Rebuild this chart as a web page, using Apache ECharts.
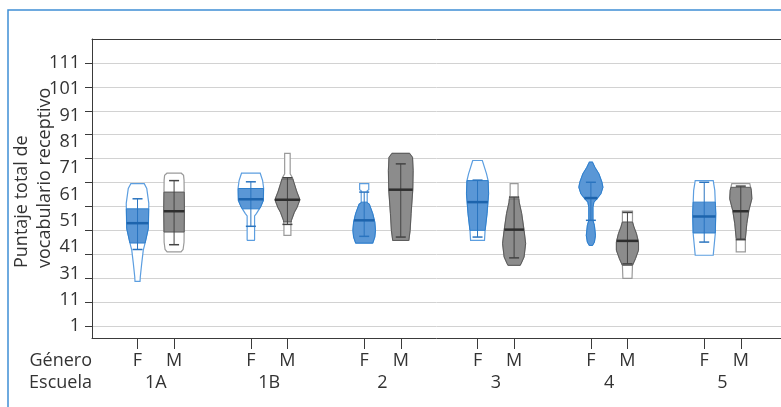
<!DOCTYPE html>
<html><head><meta charset="utf-8">
<script src="https://cdn.jsdelivr.net/npm/echarts@6/dist/echarts.min.js"></script>
<style>html,body{margin:0;padding:0;background:#fff}#c{width:781px;height:407px}</style>
</head><body><div id="c"></div>
<script>
// ---- data ----
const schools = ['1A', '1B', '2', '3', '4', '5'];
const genders = ['F', 'M'];
const yTickValues = [1, 11, 21, 31, 41, 51, 61, 71, 81, 91, 101, 111];
const yTickLabels = ['111', '101', '91', '81', '71', '61', '51', '41', '31', '11', '1'];
// group order: 1A F, 1A M, 1B F, 1B M, 2 F, 2 M, 3 F, 3 M, 4 F, 4 M, 5 F, 5 M
const medians     = [44, 49, 54, 53.8, 45.2, 58, 52.8, 41.3, 54.5, 36.6, 46.8, 49];
const fillHigh    = [50, 57, 58.5, 62.5, 52.8, 73.2, 61.8, 54.2, 69.5, 44.5, 52.8, 59];
const fillLow     = [35.7, 40.3, 50, 44.5, 35.7, 36.8, 41, 26.4, 34.7, 26.4, 39.9, 37.5];
const whiskerHigh = [54.2, 61.8, 61.3, 63, 57, 68.8, 62, 54.9, 61.1, 48.5, 61.1, 59.5];
const whiskerLow  = [33, 35, 42.7, 43.5, 38.5, 38.2, 38.2, 29.5, 45.2, 27, 36.1, 37.1];
// density profiles: [score, relative density]
const densityProfiles = [
  [[60.5,.56],[58.5,.77],[52.3,.94],[41.8,.9],[35.7,.63],[32.7,.48],[27.2,.35],[21.5,.23],[19.7,.21]],
  [[64.9,.6],[64,.79],[62,.83],[50,.86],[36,.83],[33,.75],[32,.58]],
  [[64.9,.78],[61.8,.98],[58.8,1.06],[53.5,1.04],[50.8,.81],[48,.46],[47,.31],[37,.31],[36.8,.29]],
  [[73.2,.23],[64.6,.23],[63,.42],[61,.54],[57,.79],[53.8,1.04],[50.5,.79],[48.6,.58],[45.2,.33],[43,.29],[38.9,.29]],
  [[60.5,.38],[58,.38],[57.5,.25],[52.5,.25],[52,.42],[48,.71],[44.5,.88],[41,.94],[38.2,.88],[35.7,.71]],
  [[73.2,.73],[71.5,.98],[66,1.03],[58,1.0],[48,.86],[41,.78],[36.8,.67]],
  [[70.2,.4],[64.6,.75],[61.8,.88],[56.3,.92],[48,.79],[41,.63],[36.8,.58]],
  [[60.5,.33],[55.6,.33],[54.9,.38],[52.8,.42],[48,.63],[41,.83],[35.5,.96],[29.9,.83],[27.1,.58],[26.4,.5]],
  [[69.5,.13],[67.4,.33],[64.6,.67],[61.1,.92],[59,1.0],[56.3,.83],[54.2,.5],[52.8,.25],[50.7,.17],[45.2,.17],[43.1,.29],[38.9,.38],[36.1,.29],[34.7,.13]],
  [[49,.42],[44.5,.42],[42.4,.54],[39.6,.75],[36.1,.92],[32.7,.92],[29.2,.67],[26.4,.42],[20.9,.38]],
  [[61.8,.75],[57.7,.88],[48,.96],[39.6,.92],[30.6,.75]],
  [[60.5,.75],[57.7,.88],[54.2,.92],[49.3,.67],[43.8,.5],[37.5,.38],[32,.38]]
];

// ---- layout helpers (positions of categories on the x value axis) ----
const SCHOOL_STEP = 3.1;
const X_MIN = -1.245, X_MAX = 17.6;
const xPosOf = (s, g) => s * SCHOOL_STEP + g;
const tickXs = [], labelXs = [], labelTexts = [];
schools.forEach((s, i) => {
  genders.forEach((g, j) => { tickXs.push(xPosOf(i, j)); labelXs.push(xPosOf(i, j)); labelTexts.push(g); });
  labelXs.push(xPosOf(i, 0.5)); labelTexts.push('\n' + s);
});
const nearestIdx = (arr, v) => { let b = 0; arr.forEach((a, i) => { if (Math.abs(a - v) < Math.abs(arr[b] - v)) b = i; }); return b; };
const yLabelPos = yTickLabels.map((t, k) => 111 - k * 11);

const seriesData = [];
schools.forEach((s, i) => genders.forEach((g, j) => seriesData.push([xPosOf(i, j), j, i * 2 + j])));

const HALF_PX = 12;
const AXIS_COLOR = '#3a3a3a';
const STY = {
  F: { fill: '#5a97d6', stroke: '#2f7fcc', outline: '#5c9ee0', med: '#1d64ad', whisk: '#2a74bf' },
  M: { fill: '#8c8c8c', stroke: '#5a5a5a', outline: '#9a9a9a', med: '#2e2e2e', whisk: '#444' }
};

function interp(prof, v) {
  if (v >= prof[0][0]) return prof[0][1];
  for (let i = 0; i < prof.length - 1; i++) {
    const a = prof[i], b = prof[i + 1];
    if (v <= a[0] && v >= b[0]) { const t = (a[0] - v) / (a[0] - b[0] || 1); return a[1] + t * (b[1] - a[1]); }
  }
  return prof[prof.length - 1][1];
}
function clipProfile(prof, lo, hi) {
  hi = Math.min(hi, prof[0][0]); lo = Math.max(lo, prof[prof.length - 1][0]);
  const out = [[hi, interp(prof, hi)]];
  prof.forEach(p => { if (p[0] < hi && p[0] > lo) out.push(p); });
  out.push([lo, interp(prof, lo)]);
  return out;
}

function renderItem(params, api) {
  const xv = api.value(0), gi = api.value(1), idx = api.value(2);
  const st = STY[genders[gi]];
  const prof = densityProfiles[idx];
  const cx = api.coord([xv, 0])[0];
  const Y = v => api.coord([xv, v])[1];
  const poly = pr => pr.map(p => [cx - p[1] * HALF_PX, Y(p[0])])
    .concat(pr.slice().reverse().map(p => [cx + p[1] * HALF_PX, Y(p[0])]));
  const fillPr = clipProfile(prof, fillLow[idx], fillHigh[idx]);
  const mw = interp(prof, medians[idx]) * HALF_PX;
  const capW = 5;
  return {
    type: 'group',
    children: [
      { type: 'polygon', shape: { points: poly(prof) }, style: { fill: '#fff', stroke: st.outline, lineWidth: 1.2 } },
      { type: 'polygon', shape: { points: poly(fillPr) }, style: { fill: st.fill, stroke: st.stroke, lineWidth: 1 } },
      { type: 'line', shape: { x1: cx, y1: Y(whiskerHigh[idx]), x2: cx, y2: Y(whiskerLow[idx]) }, style: { stroke: st.whisk, lineWidth: 1 } },
      { type: 'line', shape: { x1: cx - capW, y1: Y(whiskerHigh[idx]), x2: cx + capW, y2: Y(whiskerHigh[idx]) }, style: { stroke: st.whisk, lineWidth: 1.5 } },
      { type: 'line', shape: { x1: cx - capW, y1: Y(whiskerLow[idx]), x2: cx + capW, y2: Y(whiskerLow[idx]) }, style: { stroke: st.whisk, lineWidth: 1.5 } },
      { type: 'line', shape: { x1: cx - mw, y1: Y(medians[idx]), x2: cx + mw, y2: Y(medians[idx]) }, style: { stroke: st.med, lineWidth: 2.5 } }
    ]
  };
}

const FONT = 'Open Sans';
const FS = 18;
const chart = echarts.init(document.getElementById('c'));
chart.setOption({
  animation: false,
  grid: { left: 92, top: 39, right: 0, bottom: 69, show: false },
  xAxis: [
    { type: 'value', min: X_MIN, max: X_MAX, position: 'bottom',
      axisLine: { show: true, onZero: false, lineStyle: { color: AXIS_COLOR } },
      axisTick: { show: true, length: 11, customValues: tickXs, lineStyle: { color: AXIS_COLOR, width: 1 } },
      axisLabel: { customValues: labelXs, formatter: v => labelTexts[nearestIdx(labelXs, v)], margin: 12, lineHeight: 22, fontSize: FS, color: '#333', fontFamily: FONT },
      splitLine: { show: false } },
    { type: 'value', min: X_MIN, max: X_MAX, position: 'top',
      axisLine: { show: true, onZero: false, lineStyle: { color: AXIS_COLOR } },
      axisTick: { show: false }, axisLabel: { show: false }, splitLine: { show: false } }
  ],
  yAxis: {
    type: 'value', min: -4, max: 121,
    axisLine: { show: true, onZero: false, lineStyle: { color: AXIS_COLOR } },
    axisTick: { show: true, length: 7, customValues: yTickValues, lineStyle: { color: AXIS_COLOR } },
    axisLabel: { customValues: yLabelPos, formatter: v => yTickLabels[nearestIdx(yLabelPos, v)], margin: 12, fontSize: FS, color: '#333', fontFamily: FONT },
    splitLine: { show: true, lineStyle: { color: '#d2d2d2', width: 1 } }
  },
  graphic: [
    { type: 'rect', shape: { x: 8, y: 10, width: 820, height: 440 }, style: { fill: 'transparent', stroke: '#3f8fd5', lineWidth: 1.5 }, z: -1, silent: true },
    { type: 'text', x: 92, y: 361, style: { text: 'Género', textAlign: 'right', textVerticalAlign: 'middle', font: FS + 'px "' + FONT + '"', fill: '#333' } },
    { type: 'text', x: 92, y: 383, style: { text: 'Escuela', textAlign: 'right', textVerticalAlign: 'middle', font: FS + 'px "' + FONT + '"', fill: '#333' } },
    { type: 'text', x: 33.5, y: 268, rotation: Math.PI / 2, style: { text: 'Puntaje total de\nvocabulario receptivo', textAlign: 'left', textVerticalAlign: 'middle', lineHeight: 23, font: '18px "' + FONT + '"', fill: '#333' } }
  ],
  series: [{ type: 'custom', renderItem: renderItem, data: seriesData, encode: { x: 0, y: 0 }, z: 5 }]
});
</script>
</body></html>
